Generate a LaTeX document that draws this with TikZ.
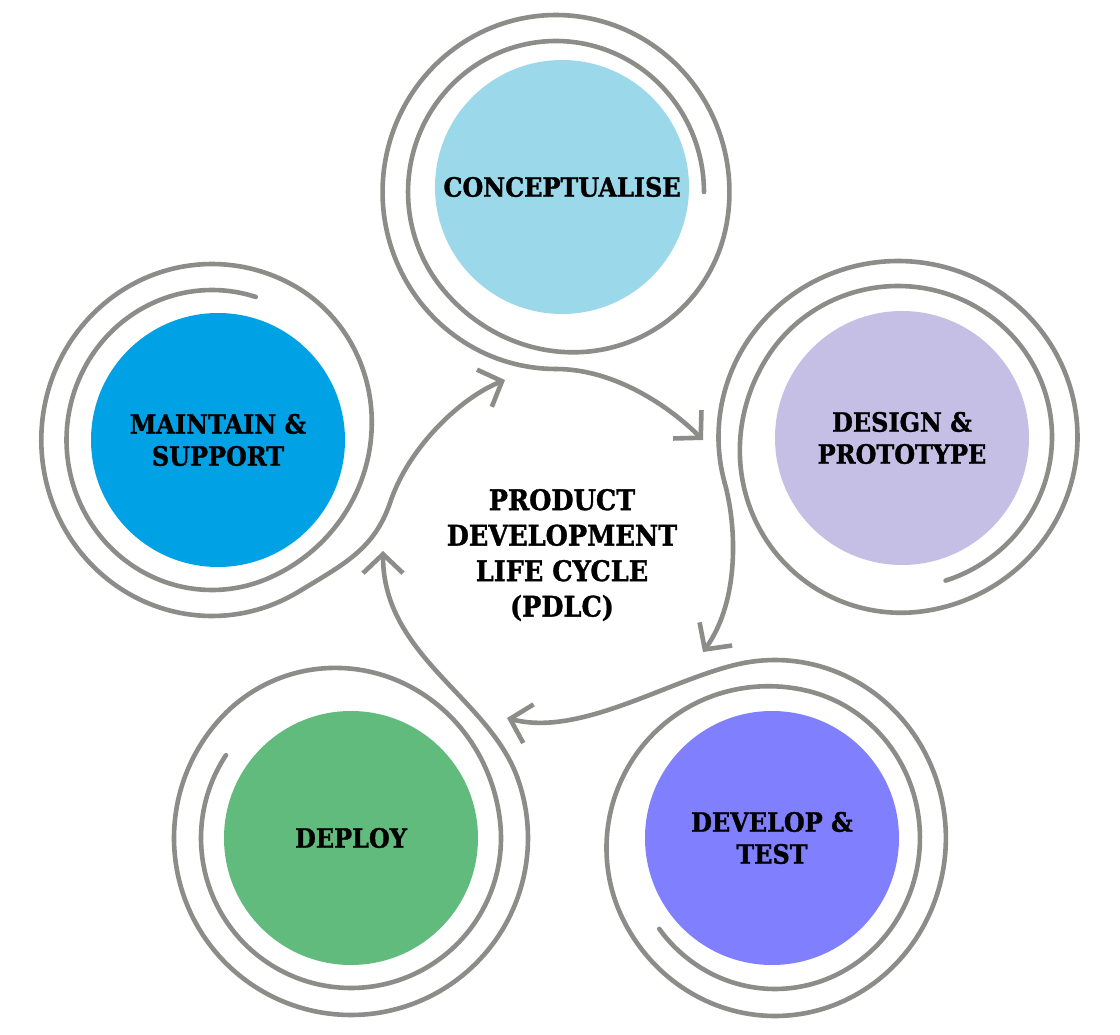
\documentclass[tikz,border=0pt]{standalone}
\usepackage{fontspec}
\setmainfont{DejaVu Serif}[FakeStretch=0.9, BoldFeatures={FakeBold=1.2}]
\usetikzlibrary{arrows.meta}
\definecolor{ringgray}{RGB}{140,140,137}
\definecolor{cconcept}{RGB}{155,217,234}
\definecolor{cdesign}{RGB}{197,190,229}
\definecolor{cdevelop}{RGB}{128,128,255}
\definecolor{cdeploy}{RGB}{97,187,125}
\definecolor{cmaintain}{RGB}{0,162,229}
\begin{document}
\begin{tikzpicture}[x=1pt,y=-1pt,
  ring/.style={draw=ringgray, line width=4.6pt, line cap=round, line join=round},
  flow/.style={ring, -{Straight Barb[length=19pt,width=40pt]}},
  stage/.style={circle, draw=none, minimum size=254pt, inner sep=0pt, align=center,
    font=\bfseries\fontsize{26.6}{32}\selectfont},
  title/.style={align=center, font=\bfseries\fontsize{28.4}{35.5}\selectfont},
  declare function={sprad(\ta,\ts,\ri,\ro)=\ri+(\ro-\ri)*(1-cos(180*min(1,max(0,(\ta-\ts-220)/130))))/2;}
]
\fill[white] (0,0) rectangle (1120,1035);
\useasboundingbox (0,0) rectangle (1120,1035);

% stages
\node[stage, fill=cconcept] (concept) at (562,187) {CONCEPTUALISE};
\node[stage, fill=cdesign] (design) at (902,438) {DESIGN \&\\PROTOTYPE};
\node[stage, fill=cdevelop] (develop) at (772,838) {DEVELOP \&\\TEST};
\node[stage, fill=cdeploy] (deploy) at (351,838) {DEPLOY};
\node[stage, fill=cmaintain] (maintain) at (218,440) {MAINTAIN \&\\SUPPORT};
\node[title] (pdlc) at (562,555) {PRODUCT\\DEVELOPMENT\\LIFE CYCLE\\(PDLC)};

% spirals
\draw[ring] plot[domain=0:630, samples=320, variable=\t]
  ({556+0.98*sprad(\t,0,151,177)*cos(\t)}, {192-sprad(\t,0,151,177)*sin(\t)});
\draw[ring] plot[domain=288:915, samples=320, variable=\t]
  ({898+1.02*sprad(\t,288,151,176)*cos(\t)}, {437-sprad(\t,288,151,176)*sin(\t)});
\draw[ring] plot[domain=217:820, samples=320, variable=\t]
  ({775+0.96*sprad(\t,217,151,178)*cos(\t)}, {838-sprad(\t,217,151,178)*sin(\t)});
\draw[ring] plot[domain=146.5:740, samples=320, variable=\t]
  ({351+1.0*sprad(\t,146.5,150,177)*cos(\t)}, {838-sprad(\t,146.5,150,177)*sin(\t)});
\draw[ring] plot[domain=72.5:660, samples=320, variable=\t]
  ({212+0.97*sprad(\t,72.5,150,176)*cos(\t)}, {440-sprad(\t,72.5,150,176)*sin(\t)});

% exit points of the spirals
\coordinate (conceptOut) at ({556+0.98*177*cos(630)},{192-177*sin(630)});
\coordinate (designOut) at ({898+1.02*176*cos(915)},{437-176*sin(915)});
\coordinate (developOut) at ({775+0.96*178*cos(820)},{838-178*sin(820)});
\coordinate (deployOut) at ({351+177*cos(740)},{838-177*sin(740)});
\coordinate (maintainOut) at ({212+0.97*176*cos(660)},{440-176*sin(660)});

% bend of the longest connector
\coordinate (maintainBend) at (390,503);

% arrow tips
\coordinate (designIn) at (703,440);
\coordinate (developIn) at (703,652);
\coordinate (deployIn) at (507,718);
\coordinate (maintainIn) at (383,551);
\coordinate (conceptIn) at (505,380);

% connectors
\draw[flow] (conceptOut) .. controls +(60,0) and +(-32,-32) .. (designIn);
\draw[flow] (designOut) .. controls +(12,43) and +(37,-52) .. (developIn);
\draw[flow] (developOut) .. controls +(-70,13) and +(75,20) .. (deployIn);
\draw[flow] (deployOut) .. controls +(-29,-80) and +(0,105) .. (maintainIn);
\draw[flow] (maintainOut) .. controls +(48,-29) and +(-16,46) .. (maintainBend)
  .. controls +(18,-55) and +(-45,18) .. (conceptIn);
\end{tikzpicture}
\end{document}
